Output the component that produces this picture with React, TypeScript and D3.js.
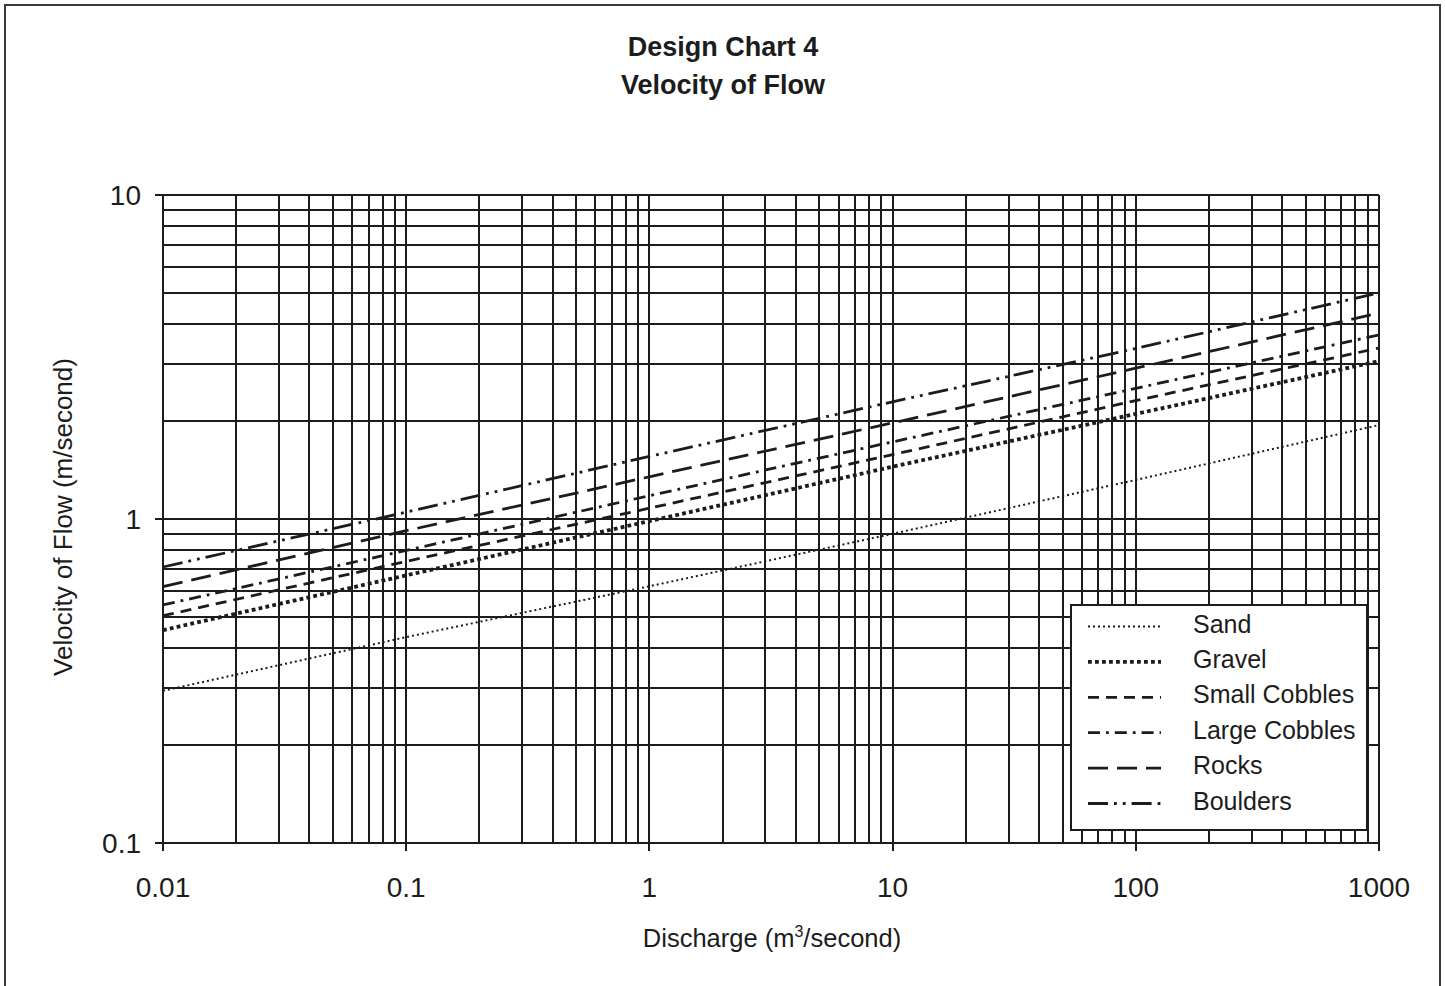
import React, { useEffect, useRef } from "react";
import * as d3 from "d3";

// discharge (m3/s) at each decade, and velocities
const discharge = [0.01, 0.1, 1, 10, 100, 1000];
const sand = [0.295, 0.432, 0.62, 0.9, 1.32, 1.95];
const gravel = [0.454, 0.67, 0.985, 1.45, 2.11, 3.07];
const smallCobbles = [0.503, 0.74, 1.08, 1.58, 2.32, 3.37];
const largeCobbles = [0.543, 0.8, 1.18, 1.73, 2.53, 3.7];
const rocks = [0.618, 0.92, 1.35, 1.98, 2.92, 4.32];
const boulders = [0.711, 1.05, 1.56, 2.3, 3.36, 4.99];

const seriesNames = ["Sand", "Gravel", "Small Cobbles", "Large Cobbles", "Rocks", "Boulders"];
const xTickLabels = ["0.01", "0.1", "1", "10", "100", "1000"];
const yTickLabels = ["0.1", "1", "10"];

const App = () => {
  const chart = useRef<SVGSVGElement>(null);

  useEffect(() => {
    const width = 1445;
    const height = 986;
    const margin = { top: 195, right: 66, bottom: 143, left: 163 };

    const svg = d3.select(chart.current).attr("width", width).attr("height", height);
    svg.selectAll("*").remove();

    const font = "Liberation Sans, Arial, sans-serif";
    const ink = "#1c1c1c";

    // outer frame
    svg
      .append("rect")
      .attr("x", 5)
      .attr("y", 5)
      .attr("width", 1435)
      .attr("height", 1000)
      .attr("fill", "white")
      .attr("stroke", "#3a3a3a")
      .attr("stroke-width", 2);

    const x = d3
      .scaleLog()
      .domain([0.01, 1000])
      .range([margin.left, width - margin.right]);
    const y = d3
      .scaleLog()
      .domain([0.1, 10])
      .range([height - margin.bottom, margin.top]);

    // title
    ["Design Chart 4", "Velocity of Flow"].forEach((t, i) =>
      svg
        .append("text")
        .attr("x", 723)
        .attr("y", 56 + i * 38)
        .attr("text-anchor", "middle")
        .attr("font-family", font)
        .attr("font-weight", "bold")
        .attr("font-size", 27)
        .attr("fill", ink)
        .text(t)
    );

    const grid = svg
      .append("g")
      .attr("stroke", ink)
      .attr("stroke-width", 2)
      .attr("shape-rendering", "crispEdges");

    // vertical grid: 1..9 of each decade
    const xGrid: number[] = [];
    for (let e = -2; e < 3; e++) for (let m = 1; m < 10; m++) xGrid.push(m * Math.pow(10, e));
    xGrid.push(1000);
    grid
      .selectAll("line.vx")
      .data(xGrid)
      .join("line")
      .attr("x1", (d) => Math.round(x(d)))
      .attr("x2", (d) => Math.round(x(d)))
      .attr("y1", y(10))
      .attr("y2", y(0.1));

    const yGrid: number[] = [];
    for (let e = -1; e < 1; e++) for (let m = 1; m < 10; m++) yGrid.push(m * Math.pow(10, e));
    yGrid.push(10);
    grid
      .selectAll("line.hy")
      .data(yGrid)
      .join("line")
      .attr("x1", x(0.01))
      .attr("x2", x(1000))
      .attr("y1", (d) => Math.round(y(d)))
      .attr("y2", (d) => Math.round(y(d)));

    // ticks
    const xMajor = xTickLabels.map(Number);
    const yMajor = yTickLabels.map(Number);
    grid
      .selectAll("line.tx")
      .data(xMajor)
      .join("line")
      .attr("x1", (d) => Math.round(x(d)))
      .attr("x2", (d) => Math.round(x(d)))
      .attr("y1", y(0.1))
      .attr("y2", y(0.1) + 8);
    grid
      .selectAll("line.ty")
      .data(yMajor)
      .join("line")
      .attr("x1", x(0.01) - 8)
      .attr("x2", x(0.01))
      .attr("y1", (d) => Math.round(y(d)))
      .attr("y2", (d) => Math.round(y(d)));

    svg
      .append("g")
      .selectAll("text")
      .data(xTickLabels)
      .join("text")
      .attr("x", (d) => x(Number(d)))
      .attr("y", y(0.1) + 54)
      .attr("text-anchor", "middle")
      .attr("font-family", font)
      .attr("font-size", 28)
      .attr("fill", ink)
      .text((d) => d);

    svg
      .append("g")
      .selectAll("text")
      .data(yTickLabels)
      .join("text")
      .attr("x", 141)
      .attr("y", (d) => y(Number(d)) + 10)
      .attr("text-anchor", "end")
      .attr("font-family", font)
      .attr("font-size", 28)
      .attr("fill", ink)
      .text((d) => d);

    // axis titles
    const xt = svg
      .append("text")
      .attr("x", 772)
      .attr("y", 947)
      .attr("text-anchor", "middle")
      .attr("font-family", font)
      .attr("font-size", 25.5)
      .attr("fill", ink);
    xt.append("tspan").text("Discharge (m");
    xt.append("tspan").attr("font-size", 16).attr("dy", -10).text("3");
    xt.append("tspan").attr("dy", 10).text("/second)");

    svg
      .append("text")
      .attr("transform", `translate(72, 517) rotate(-90)`)
      .attr("text-anchor", "middle")
      .attr("font-family", font)
      .attr("font-size", 26)
      .attr("fill", ink)
      .text("Velocity of Flow (m/second)");

    // series
    const styles = [
      { w: 2, dash: "2,3" },
      { w: 3.8, dash: "3.8,3.2" },
      { w: 2.8, dash: "11,7" },
      { w: 2.8, dash: "12,6,2.8,6" },
      { w: 2.8, dash: "20,9" },
      { w: 2.8, dash: "20,6,2.8,6,2.8,6" },
    ];
    const series = [sand, gravel, smallCobbles, largeCobbles, rocks, boulders];
    const line = d3
      .line<number>()
      .x((_, i) => x(discharge[i]))
      .y((d) => y(d));

    svg
      .append("g")
      .selectAll("path")
      .data(series)
      .join("path")
      .attr("d", (d) => line(d))
      .attr("fill", "none")
      .attr("stroke", ink)
      .attr("stroke-width", (_, i) => styles[i].w)
      .attr("stroke-dasharray", (_, i) => styles[i].dash);

    // legend
    const legend = svg.append("g");
    legend
      .append("rect")
      .attr("x", 1071)
      .attr("y", 605)
      .attr("width", 296)
      .attr("height", 225)
      .attr("fill", "white")
      .attr("stroke", ink)
      .attr("stroke-width", 2);

    const rows = legend
      .selectAll("g")
      .data(seriesNames)
      .join("g")
      .attr("transform", (_, i) => `translate(0, ${632.5 + i * 35.4})`);
    rows
      .append("line")
      .attr("x1", 1088)
      .attr("x2", 1161)
      .attr("y1", -6)
      .attr("y2", -6)
      .attr("stroke", ink)
      .attr("stroke-width", (_, i) => styles[i].w)
      .attr("stroke-dasharray", (_, i) => styles[i].dash);
    rows
      .append("text")
      .attr("x", 1193)
      .attr("font-family", font)
      .attr("font-size", 25)
      .attr("fill", ink)
      .text((d) => d);
  }, []);

  return (
    <div>
      <svg ref={chart} style={{ position: "absolute", left: 0, top: 0 }}></svg>
    </div>
  );
};

export default App;
